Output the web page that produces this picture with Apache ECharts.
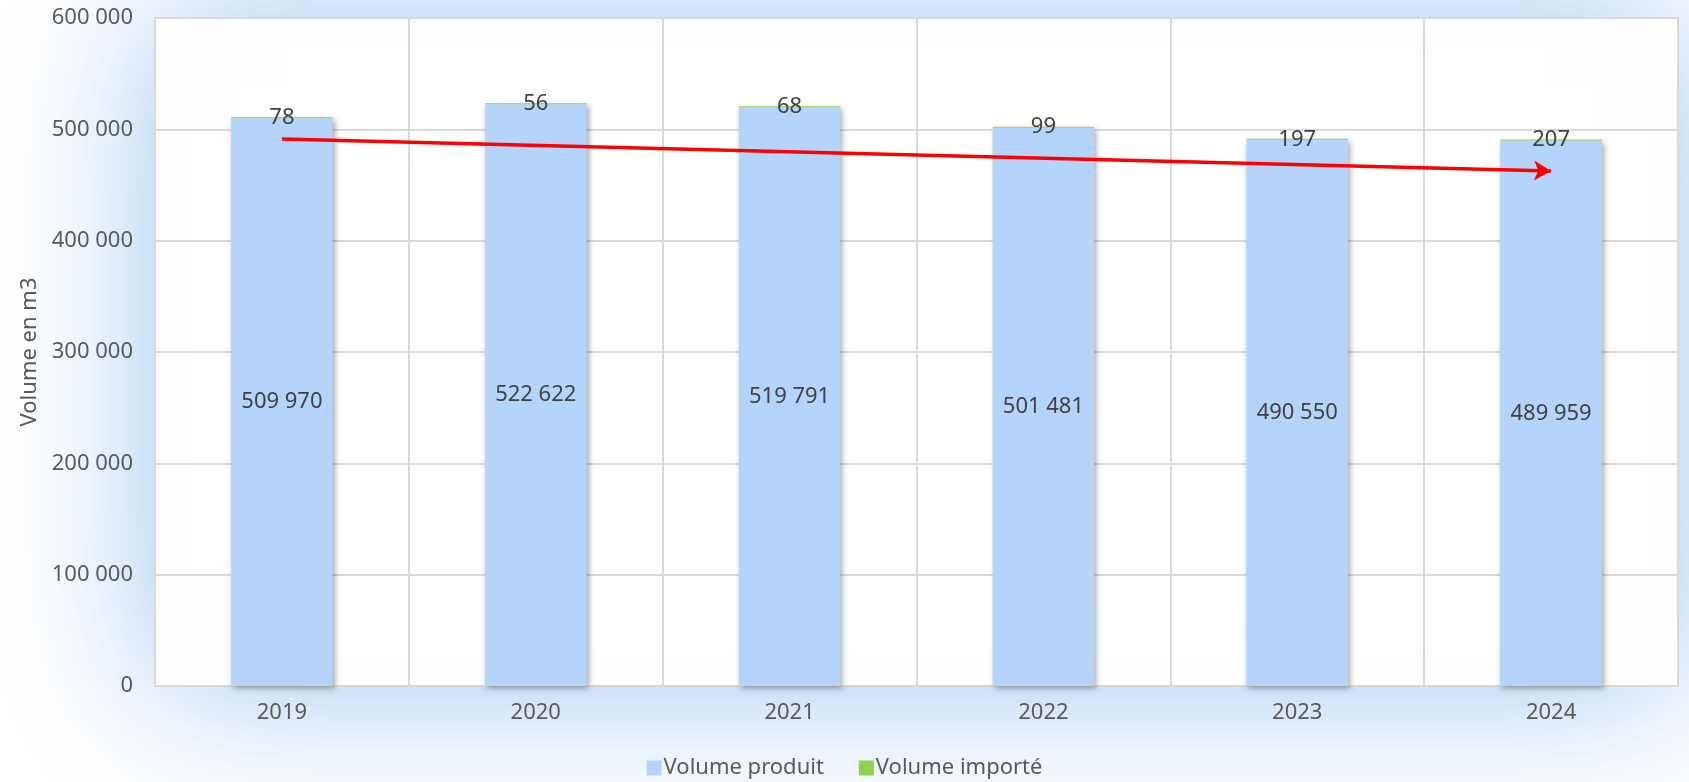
<!DOCTYPE html>
<html>
<head>
<meta charset="utf-8">
<script src="https://cdn.jsdelivr.net/npm/echarts@6/dist/echarts.min.js"></script>
<style>
html,body{margin:0;padding:0;background:#ffffff;}
#chart{width:1689px;height:782px;}
</style>
</head>
<body>
<div id="chart"></div>
<script>
const categories = ['2019', '2020', '2021', '2022', '2023', '2024'];
const volumeProduit = [509970, 522622, 519791, 501481, 490550, 489959];
const volumeImporte = [78, 56, 68, 99, 197, 207];
const yTicks = [0, 100000, 200000, 300000, 400000, 500000, 600000];
const trendLine = [['2019', 491300], ['2024', 462600]];

const fmt = v => String(v).replace(/\B(?=(\d{3})+(?!\d))/g, ' ');
const FONT = 'Noto Sans';
const FS = 22;

const chart = echarts.init(document.getElementById('chart'), null, {renderer: 'canvas'});
chart.setOption({
  animation: false,
  backgroundColor: '#ffffff',
  textStyle: {fontFamily: FONT},
  grid: {
    left: 155, right: 11, top: 18, bottom: 96,
    show: true,
    backgroundColor: '#ffffff',
    borderColor: '#d9d9d9',
    borderWidth: 2,
    shadowBlur: 150,
    shadowColor: 'rgba(150,190,235,0.9)'
  },
  legend: {
    bottom: -2,
    left: 'center',
    itemWidth: 15,
    itemHeight: 15,
    itemGap: 35,
    icon: 'rect',
    textStyle: {fontFamily: FONT, fontSize: FS, color: '#595959', padding: [0, 0, 0, -3]},
    data: ['Volume produit', 'Volume importé']
  },
  xAxis: {
    type: 'category',
    data: categories,
    axisLine: {show: true, lineStyle: {color: '#d9d9d9', width: 2}},
    axisTick: {show: false},
    splitLine: {show: true, lineStyle: {color: '#d9d9d9', width: 2}},
    axisLabel: {fontFamily: FONT, fontSize: FS, color: '#595959', margin: 16}
  },
  yAxis: {
    type: 'value',
    min: yTicks[0],
    max: yTicks[yTicks.length - 1],
    interval: yTicks[1] - yTicks[0],
    name: 'Volume en m3',
    nameLocation: 'middle',
    nameGap: 114,
    nameTextStyle: {fontFamily: FONT, fontSize: FS, color: '#595959'},
    axisLine: {show: false},
    axisTick: {show: false},
    splitLine: {show: true, lineStyle: {color: '#d9d9d9', width: 2}},
    axisLabel: {fontFamily: FONT, fontSize: FS, color: '#595959', margin: 22, formatter: v => fmt(v)}
  },
  series: [
    {
      name: 'Volume produit',
      type: 'bar',
      stack: 'total',
      barWidth: '40%',
      data: volumeProduit,
      itemStyle: {
        color: '#b5d4fb',
        shadowBlur: 6,
        shadowColor: 'rgba(0,0,0,0.35)',
        shadowOffsetX: 2,
        shadowOffsetY: 2
      },
      label: {
        show: true,
        position: 'inside',
        fontFamily: FONT,
        fontSize: FS,
        color: '#404040',
        formatter: p => fmt(p.value)
      },
      emphasis: {disabled: true},
      markLine: {
        silent: true,
        symbol: ['none', 'arrow'],
        symbolSize: [15, 17],
        label: {show: false},
        lineStyle: {color: '#ff0000', width: 3.5, type: 'solid'},
        data: [[{coord: trendLine[0]}, {coord: trendLine[1]}]]
      }
    },
    {
      name: 'Volume importé',
      type: 'bar',
      stack: 'total',
      barWidth: '40%',
      barMinHeight: 1,
      data: volumeImporte,
      itemStyle: {color: '#92d050'},
      label: {
        show: true,
        position: 'inside',
        fontFamily: FONT,
        fontSize: FS,
        color: '#404040',
        formatter: p => fmt(p.value)
      },
      emphasis: {disabled: true}
    }
  ]
});
</script>
</body>
</html>
